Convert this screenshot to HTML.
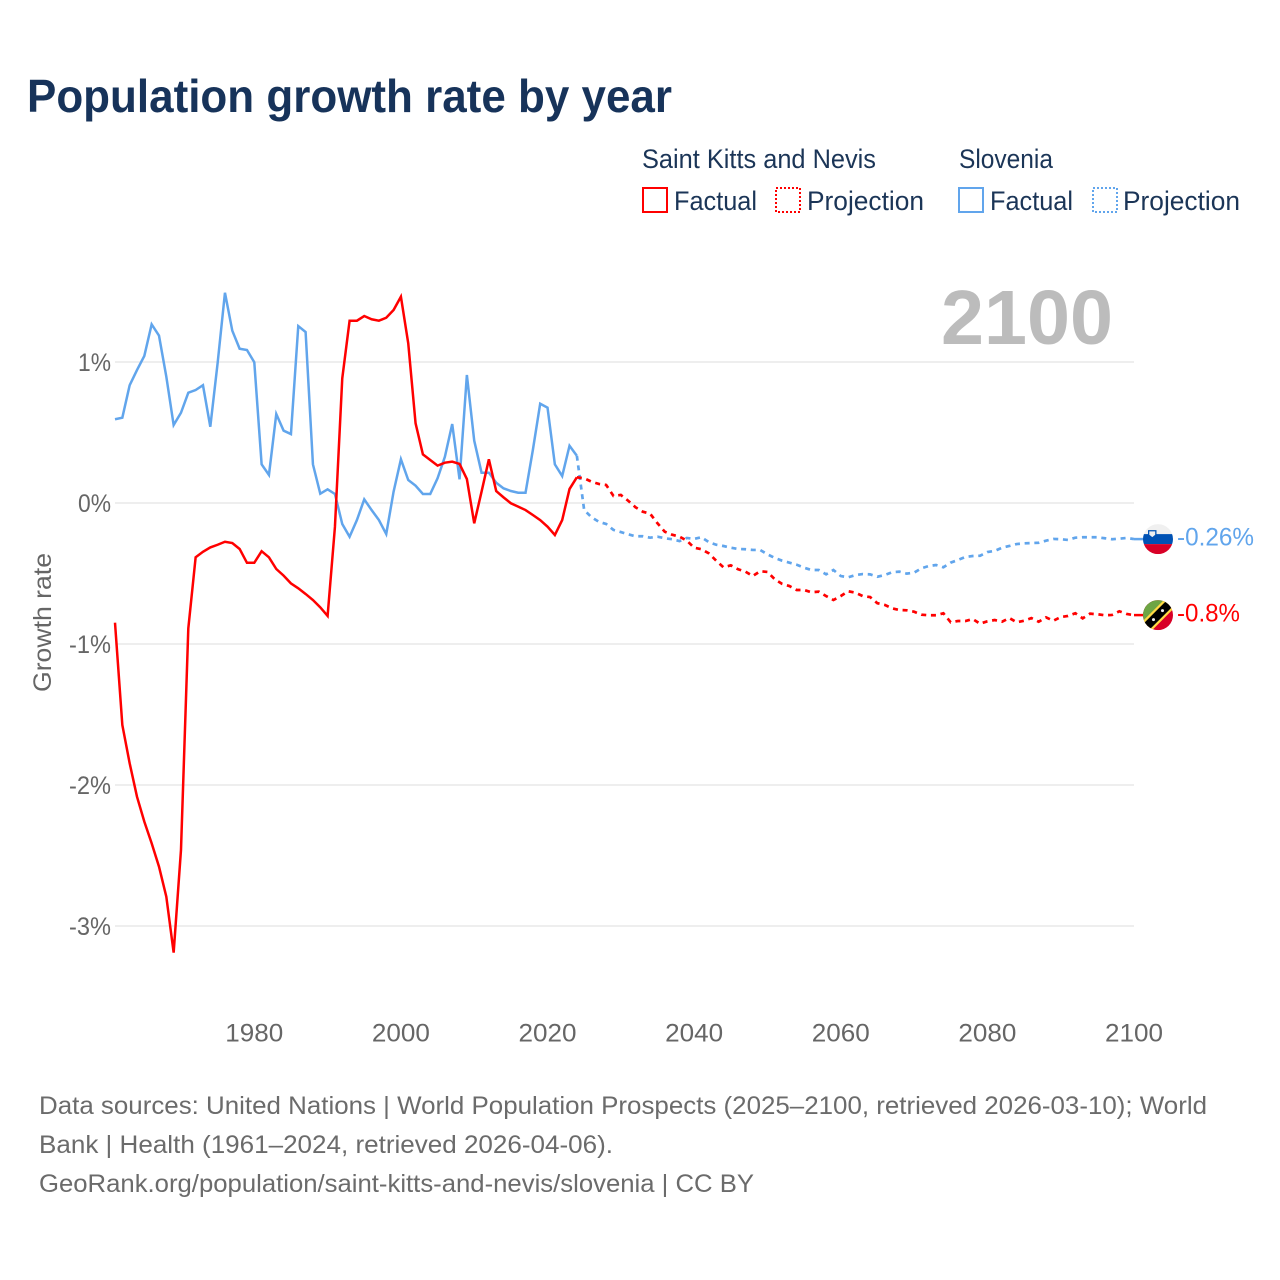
<!DOCTYPE html>
<html lang="en">
<head>
<meta charset="utf-8">
<title>Population growth rate by year</title>
<style>
html,body{margin:0;padding:0;background:#fff;}
svg{display:block;font-family:"Liberation Sans",sans-serif;}
</style>
</head>
<body>
<svg id="chart" xmlns="http://www.w3.org/2000/svg" width="1280" height="1280" viewBox="0 0 1280 1280">
  <defs>
    <clipPath id="flag-si-clip"><circle id="flag-si-clip-circle" cx="1158" cy="539" r="15"/></clipPath>
    <clipPath id="flag-kn-clip"><circle id="flag-kn-clip-circle" cx="1158" cy="615" r="15"/></clipPath>
  </defs>
  <rect width="1280" height="1280" fill="#fff"/>
  <text x="27" y="112" font-size="46" font-weight="700" fill="#17335a" textLength="645" lengthAdjust="spacingAndGlyphs">Population growth rate by year</text>

  <g font-size="27" fill="#1b3557">
    <text x="642" y="168" textLength="234" lengthAdjust="spacingAndGlyphs">Saint Kitts and Nevis</text>
    <text x="959" y="168" textLength="94" lengthAdjust="spacingAndGlyphs">Slovenia</text>
    <rect x="643" y="188" width="24" height="24" fill="none" stroke="#ff0000" stroke-width="2"/>
    <text x="674" y="210" textLength="83" lengthAdjust="spacingAndGlyphs">Factual</text>
    <rect x="776" y="188" width="24" height="24" fill="none" stroke="#ff0000" stroke-width="2" stroke-dasharray="2 2"/>
    <text x="807" y="210" textLength="117" lengthAdjust="spacingAndGlyphs">Projection</text>
    <rect x="959" y="188" width="24" height="24" fill="none" stroke="#61a5ec" stroke-width="2"/>
    <text x="990" y="210" textLength="83" lengthAdjust="spacingAndGlyphs">Factual</text>
    <rect x="1093" y="188" width="24" height="24" fill="none" stroke="#61a5ec" stroke-width="2" stroke-dasharray="2 2"/>
    <text x="1123" y="210" textLength="117" lengthAdjust="spacingAndGlyphs">Projection</text>
  </g>

  <g id="grid"></g>
  <text x="941" y="344" font-size="77" font-weight="700" fill="#bcbcbc" textLength="172" lengthAdjust="spacingAndGlyphs">2100</text>
  <g id="y-ticks" font-size="25" fill="#666" text-anchor="end"></g>
  <g id="x-ticks" font-size="25" fill="#666" text-anchor="middle"></g>
  <text transform="translate(51,692) rotate(-90)" font-size="25" fill="#666" textLength="139" lengthAdjust="spacingAndGlyphs">Growth rate</text>
  <g id="series"></g>

  <g id="flag-si" clip-path="url(#flag-si-clip)">
    <rect x="1143" y="524" width="30" height="10" fill="#f0f0f0"/>
    <rect x="1143" y="534" width="30" height="10" fill="#0052b4"/>
    <rect x="1143" y="544" width="30" height="10" fill="#d80027"/>
    <path d="M1148 530h8.5v5l-4.2 3.5-4.3-3.5z" fill="#0052b4"/>
    <path d="M1149.3 531.3h5.9v3.3l-2.9 2.4-3-2.4z" fill="#f0f0f0"/>
  </g>
  <g id="flag-kn" clip-path="url(#flag-kn-clip)">
    <rect x="1143" y="600" width="30" height="30" fill="#d80027"/>
    <path d="M1143 600h30l-30 30z" fill="#6da544"/>
    <path d="M1143 630l30-30" stroke="#ffda44" stroke-width="13" fill="none"/>
    <path d="M1143 630l30-30" stroke="#000" stroke-width="8.5" fill="none"/>
    <circle cx="1153.5" cy="619.5" r="1.5" fill="#f0f0f0"/>
    <circle cx="1162.5" cy="610.5" r="1.5" fill="#f0f0f0"/>
  </g>
  <g id="end-labels" font-size="25"></g>

  <g font-size="25" fill="#6b6b6b">
    <text x="39" y="1114" textLength="1168" lengthAdjust="spacingAndGlyphs">Data sources: United Nations | World Population Prospects (2025–2100, retrieved 2026-03-10); World</text>
    <text x="39" y="1153" textLength="574" lengthAdjust="spacingAndGlyphs">Bank | Health (1961–2024, retrieved 2026-04-06).</text>
    <text x="39" y="1192" textLength="715" lengthAdjust="spacingAndGlyphs">GeoRank.org/population/saint-kitts-and-nevis/slovenia | CC BY</text>
  </g>
</svg>
<script>
const factualStartYear = 1961;
const projectionStartYear = 2025;
const yTickValues = [1, 0, -1, -2, -3];
const yTickLabels = ['1%', '0%', '-1%', '-2%', '-3%'];
const xTickYears = [1980, 2000, 2020, 2040, 2060, 2080, 2100];

const kittsFactual = [
-0.849,-1.574,-1.846,-2.083,-2.260,-2.413,-2.579,-2.792,-3.189,-2.461,
-0.889,-0.385,-0.346,-0.315,-0.296,-0.275,-0.284,-0.326,-0.424,-0.424,
-0.342,-0.385,-0.468,-0.515,-0.570,-0.605,-0.645,-0.688,-0.740,-0.801,
-0.170,0.884,1.293,1.293,1.326,1.303,1.293,1.314,1.369,1.463,
1.133,0.565,0.345,0.305,0.265,0.286,0.293,0.277,0.170,-0.144,
0.080,0.310,0.085,0.040,-0.002,-0.026,-0.050,-0.085,-0.121,-0.168,
-0.227,-0.121,0.099,0.182];

const kittsProjection = [
0.175,0.151,0.135,0.128,0.050,0.057,0.016,-0.030,-0.062,-0.076,
-0.144,-0.204,-0.225,-0.239,-0.267,-0.317,-0.328,-0.357,-0.409,-0.456,
-0.442,-0.470,-0.487,-0.518,-0.484,-0.489,-0.541,-0.574,-0.589,-0.617,
-0.617,-0.633,-0.629,-0.660,-0.688,-0.660,-0.626,-0.636,-0.660,-0.667,
-0.711,-0.723,-0.747,-0.759,-0.761,-0.771,-0.792,-0.796,-0.796,-0.782,
-0.846,-0.837,-0.837,-0.823,-0.856,-0.839,-0.830,-0.842,-0.816,-0.846,
-0.835,-0.816,-0.842,-0.811,-0.835,-0.809,-0.801,-0.782,-0.818,-0.785,
-0.789,-0.796,-0.794,-0.768,-0.787,-0.795];

const sloveniaFactual = [
0.594,0.605,0.835,0.943,1.043,1.267,1.187,0.896,0.553,0.640,
0.782,0.801,0.835,0.541,0.993,1.491,1.222,1.094,1.085,0.998,
0.274,0.199,0.631,0.513,0.489,1.255,1.213,0.274,0.066,0.097,
0.064,-0.149,-0.239,-0.121,0.026,-0.050,-0.121,-0.220,0.080,0.310,
0.163,0.123,0.064,0.064,0.175,0.328,0.560,0.168,0.908,0.442,
0.215,0.215,0.144,0.104,0.085,0.073,0.073,0.376,0.704,0.676,
0.274,0.191,0.406,0.335];

const sloveniaProjection = [
-0.050,-0.101,-0.133,-0.149,-0.191,-0.206,-0.222,-0.236,-0.236,-0.246,
-0.239,-0.250,-0.257,-0.270,-0.248,-0.255,-0.243,-0.277,-0.296,-0.305,
-0.317,-0.326,-0.328,-0.333,-0.333,-0.364,-0.390,-0.409,-0.423,-0.438,
-0.459,-0.475,-0.475,-0.506,-0.475,-0.518,-0.527,-0.511,-0.504,-0.506,
-0.523,-0.511,-0.491,-0.487,-0.501,-0.494,-0.463,-0.447,-0.440,-0.456,
-0.423,-0.404,-0.383,-0.376,-0.374,-0.348,-0.340,-0.317,-0.305,-0.291,
-0.286,-0.284,-0.282,-0.267,-0.255,-0.257,-0.262,-0.246,-0.243,-0.243,
-0.243,-0.250,-0.257,-0.253,-0.248,-0.256];

const kittsEndLabel = '-0.8%';
const sloveniaEndLabel = '-0.26%';

const NS = 'http://www.w3.org/2000/svg';
const RED = '#ff0000';
const BLUE = '#61a5ec';
function xScale(year) { return 115 + (year - 1961) * (1019 / 139); }
function yScale(v) { return 503 - v * 141; }
function linePath(values, startYear) {
  return values.map(function (v, i) {
    return (i ? 'L' : 'M') + xScale(startYear + i).toFixed(2) + ' ' + yScale(v).toFixed(2);
  }).join('');
}

const gridGroup = document.getElementById('grid');
const yTickGroup = document.getElementById('y-ticks');
yTickValues.forEach(function (v, i) {
  const gl = document.createElementNS(NS, 'line');
  
  
  gl.setAttribute('x1', xScale(1961));
  gl.setAttribute('x2', xScale(2100));
  gl.setAttribute('y1', yScale(v));
  gl.setAttribute('y2', yScale(v));
  gl.setAttribute('stroke', '#e9e9e9');
  gl.setAttribute('stroke-width', '1.5');
  gridGroup.appendChild(gl);
  const t = document.createElementNS(NS, 'text');
  
  
  t.setAttribute('x', 111);
  t.setAttribute('y', yScale(v) + 9);
  t.setAttribute('textLength', yTickLabels[i].length * 9 + 15);
  t.setAttribute('lengthAdjust', 'spacingAndGlyphs');
  t.textContent = yTickLabels[i];
  yTickGroup.appendChild(t);
});

const xTickGroup = document.getElementById('x-ticks');
xTickYears.forEach(function (yr) {
  const t = document.createElementNS(NS, 'text');
  
  
  t.setAttribute('x', xScale(yr));
  t.setAttribute('y', 1041.5);
  t.setAttribute('textLength', '58');
  t.setAttribute('lengthAdjust', 'spacingAndGlyphs');
  t.textContent = String(yr);
  xTickGroup.appendChild(t);
});

const seriesGroup = document.getElementById('series');
function drawLine(d, color, dashed, name) {
  const p = document.createElementNS(NS, 'path');
  
  
  p.setAttribute('d', d);
  p.setAttribute('fill', 'none');
  p.setAttribute('stroke', color);
  p.setAttribute('stroke-width', dashed ? '2.7' : '2.5');
  p.setAttribute('stroke-linejoin', 'miter');
  if (dashed) p.setAttribute('stroke-dasharray', '5 4.7');
  seriesGroup.appendChild(p);
}
const kittsFactualLast = kittsFactual[kittsFactual.length - 1];
const sloveniaFactualLast = sloveniaFactual[sloveniaFactual.length - 1];
drawLine(linePath(sloveniaFactual, factualStartYear), BLUE, false, 'slovenia-factual-line');
drawLine(linePath([sloveniaFactualLast].concat(sloveniaProjection), projectionStartYear - 1), BLUE, true, 'slovenia-projection-line');
drawLine(linePath(kittsFactual, factualStartYear), RED, false, 'saint-kitts-factual-line');
drawLine(linePath([kittsFactualLast].concat(kittsProjection), projectionStartYear - 1), RED, true, 'saint-kitts-projection-line');

const kittsEnd = kittsProjection[kittsProjection.length - 1];
const sloveniaEnd = sloveniaProjection[sloveniaProjection.length - 1];
const kittsEndY = yScale(kittsEnd);
const sloveniaEndY = yScale(sloveniaEnd);

const connectorSi = document.createElementNS(NS, 'line');


connectorSi.setAttribute('x1', xScale(2100));
connectorSi.setAttribute('x2', 1145);
connectorSi.setAttribute('y1', sloveniaEndY);
connectorSi.setAttribute('y2', sloveniaEndY);
connectorSi.setAttribute('stroke', BLUE);
connectorSi.setAttribute('stroke-width', '2.5');
seriesGroup.appendChild(connectorSi);

const connectorKn = document.createElementNS(NS, 'line');


connectorKn.setAttribute('x1', xScale(2100));
connectorKn.setAttribute('x2', 1145);
connectorKn.setAttribute('y1', kittsEndY);
connectorKn.setAttribute('y2', kittsEndY);
connectorKn.setAttribute('stroke', RED);
connectorKn.setAttribute('stroke-width', '2.5');
seriesGroup.appendChild(connectorKn);

document.getElementById('flag-si').setAttribute('transform', 'translate(0,' + (sloveniaEndY - 539).toFixed(2) + ')');
document.getElementById('flag-kn').setAttribute('transform', 'translate(0,' + (kittsEndY - 615).toFixed(2) + ')');

const endLabels = document.getElementById('end-labels');
const labelSi = document.createElementNS(NS, 'text');


labelSi.setAttribute('x', 1177);
labelSi.setAttribute('y', sloveniaEndY + 6.5);
labelSi.setAttribute('fill', BLUE);
labelSi.setAttribute('textLength', '77');
labelSi.setAttribute('lengthAdjust', 'spacingAndGlyphs');
labelSi.textContent = sloveniaEndLabel;
endLabels.appendChild(labelSi);

const labelKn = document.createElementNS(NS, 'text');


labelKn.setAttribute('x', 1177);
labelKn.setAttribute('y', kittsEndY + 6.5);
labelKn.setAttribute('fill', RED);
labelKn.setAttribute('textLength', '63');
labelKn.setAttribute('lengthAdjust', 'spacingAndGlyphs');
labelKn.textContent = kittsEndLabel;
endLabels.appendChild(labelKn);
</script>
</body>
</html>
